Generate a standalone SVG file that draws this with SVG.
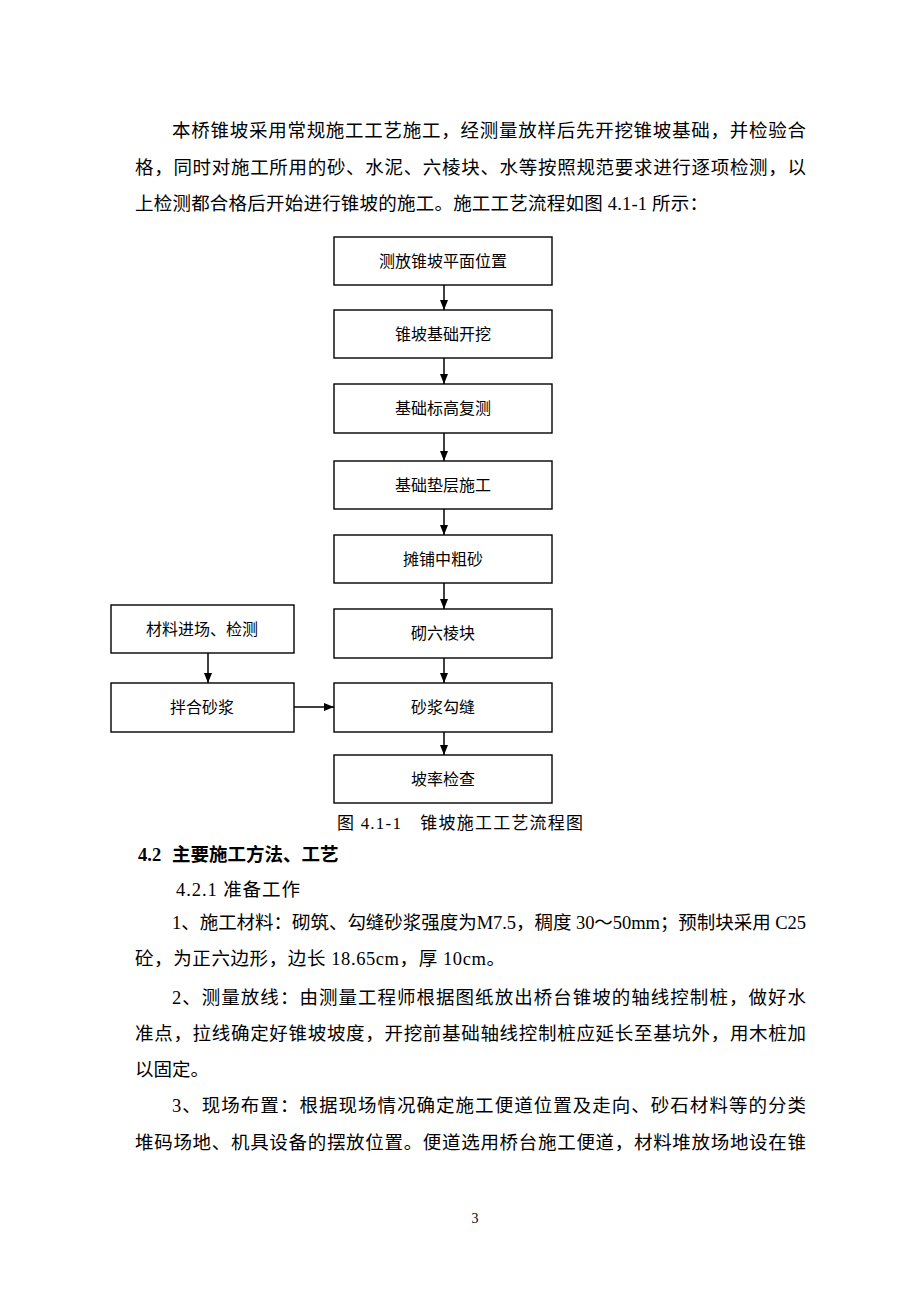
<svg xmlns="http://www.w3.org/2000/svg" width="920" height="1302" viewBox="0 0 920 1302">
<style>
.body{font-family:"Liberation Serif","Noto Sans CJK SC",serif;font-size:18.5px;fill:#000}
.bold{font-weight:bold}
.box{fill:#fff;stroke:#000;stroke-width:1.4}
.lbl{font-family:"Liberation Serif","Noto Sans CJK SC",serif;font-size:16px;fill:#000;text-anchor:middle}
.cap{font-family:"Liberation Serif","Noto Sans CJK SC",serif;font-size:17px;fill:#000}
.conn{stroke:#000;stroke-width:1.5;fill:none}
</style>
<defs>
<marker id="arr" viewBox="0 0 10 8" refX="10" refY="4" markerWidth="10" markerHeight="8" markerUnits="userSpaceOnUse" orient="auto">
<path d="M0,0 L10,4 L0,8 Z" fill="#000"/>
</marker>
</defs>
<rect width="920" height="1302" fill="#fff"/>
<g id="intro">
<text class="body" x="172" y="137" textLength="634" lengthAdjust="spacing">本桥锥坡采用常规施工工艺施工，经测量放样后先开挖锥坡基础，并检验合</text>
<text class="body" x="135" y="173.5" textLength="671" lengthAdjust="spacing">格，同时对施工所用的砂、水泥、六棱块、水等按照规范要求进行逐项检测，以</text>
<text class="body" x="135" y="210" textLength="573" lengthAdjust="spacing">上检测都合格后开始进行锥坡的施工。施工工艺流程如图 4.1-1 所示：</text>
</g>
<g id="connectors">
<line class="conn" x1="444" y1="285" x2="444" y2="310" marker-end="url(#arr)"/>
<line class="conn" x1="444" y1="358" x2="444" y2="384" marker-end="url(#arr)"/>
<line class="conn" x1="444" y1="433" x2="444" y2="461" marker-end="url(#arr)"/>
<line class="conn" x1="444" y1="509" x2="444" y2="535" marker-end="url(#arr)"/>
<line class="conn" x1="444" y1="583" x2="444" y2="609" marker-end="url(#arr)"/>
<line class="conn" x1="444" y1="658" x2="444" y2="683" marker-end="url(#arr)"/>
<line class="conn" x1="444" y1="732" x2="444" y2="755" marker-end="url(#arr)"/>
<line class="conn" x1="208" y1="653" x2="208" y2="683" marker-end="url(#arr)"/>
<line class="conn" x1="294" y1="707" x2="334" y2="707" marker-end="url(#arr)"/>
</g>
<g id="n1"><rect class="box" x="334" y="237" width="218" height="48"/><text class="lbl" x="443" y="267">测放锥坡平面位置</text></g>
<g id="n2"><rect class="box" x="334" y="310" width="218" height="48"/><text class="lbl" x="443" y="340">锥坡基础开挖</text></g>
<g id="n3"><rect class="box" x="334" y="384" width="218" height="49"/><text class="lbl" x="443" y="414">基础标高复测</text></g>
<g id="n4"><rect class="box" x="334" y="461" width="218" height="48"/><text class="lbl" x="443" y="491">基础垫层施工</text></g>
<g id="n5"><rect class="box" x="334" y="535" width="218" height="48"/><text class="lbl" x="443" y="565">摊铺中粗砂</text></g>
<g id="n6"><rect class="box" x="334" y="609" width="218" height="49"/><text class="lbl" x="443" y="639">砌六棱块</text></g>
<g id="n7"><rect class="box" x="334" y="683" width="218" height="49"/><text class="lbl" x="443" y="713">砂浆勾缝</text></g>
<g id="n8"><rect class="box" x="334" y="755" width="218" height="48"/><text class="lbl" x="443" y="785">坡率检查</text></g>
<g id="m1"><rect class="box" x="111" y="605" width="183" height="48"/><text class="lbl" x="202" y="635">材料进场、检测</text></g>
<g id="m2"><rect class="box" x="111" y="683" width="183" height="49"/><text class="lbl" x="202" y="713">拌合砂浆</text></g>
<g id="caption"><text class="cap" x="337" y="829" textLength="246" lengthAdjust="spacing">图 4.1-1　锥坡施工工艺流程图</text></g>
<g id="section">
<text class="body bold" x="138" y="861">4.2<tspan x="172">主要施工方法、工艺</tspan></text>
<text class="body" x="176" y="896" textLength="124" lengthAdjust="spacing">4.2.1 准备工作</text>
<text class="body" x="172" y="929" textLength="634" lengthAdjust="spacing">1、施工材料：砌筑、勾缝砂浆强度为M7.5，稠度 30～50mm；预制块采用 C25</text>
<text class="body" x="135" y="965" textLength="370" lengthAdjust="spacing">砼，为正六边形，边长 18.65cm，厚 10cm。</text>
<text class="body" x="172" y="1004" textLength="634" lengthAdjust="spacing">2、测量放线：由测量工程师根据图纸放出桥台锥坡的轴线控制桩，做好水</text>
<text class="body" x="135" y="1040" textLength="671" lengthAdjust="spacing">准点，拉线确定好锥坡坡度，开挖前基础轴线控制桩应延长至基坑外，用木桩加</text>
<text class="body" x="135" y="1076">以固定。</text>
<text class="body" x="172" y="1112" textLength="634" lengthAdjust="spacing">3、现场布置：根据现场情况确定施工便道位置及走向、砂石材料等的分类</text>
<text class="body" x="135" y="1149" textLength="671" lengthAdjust="spacing">堆码场地、机具设备的摆放位置。便道选用桥台施工便道，材料堆放场地设在锥</text>
</g>
<g id="page"><text x="475" y="1223" style="font-family:'Liberation Serif',serif;font-size:14px;text-anchor:middle">3</text></g>
</svg>
